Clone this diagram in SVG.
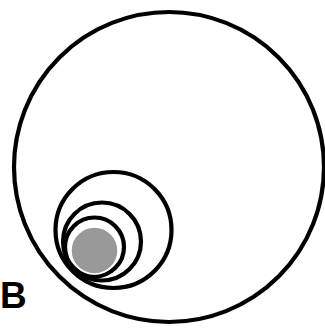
<svg xmlns="http://www.w3.org/2000/svg" width="325" height="330" viewBox="0 0 325 330">
<style>
.ring{fill:none;stroke:#000;stroke-width:4.2}
.lbl{font-family:"Liberation Sans",Arial,sans-serif;font-weight:bold;font-size:37px;fill:#000}
</style>
<rect width="325" height="330" fill="#fff"/>
<g id="outer"><circle class="ring" cx="169" cy="167" r="155"/></g>
<g id="c2"><circle class="ring" cx="113.5" cy="230" r="58"/></g>
<g id="c3"><circle class="ring" cx="102" cy="241.5" r="39"/></g>
<g id="c4"><circle class="ring" cx="94.5" cy="247" r="29.5"/></g>
<g id="core"><circle cx="94.5" cy="250.5" r="23.5" fill="#999" stroke="#fff" stroke-width="1.5"/></g>
<g id="label"><text class="lbl" x="0" y="308">B</text></g>
</svg>
